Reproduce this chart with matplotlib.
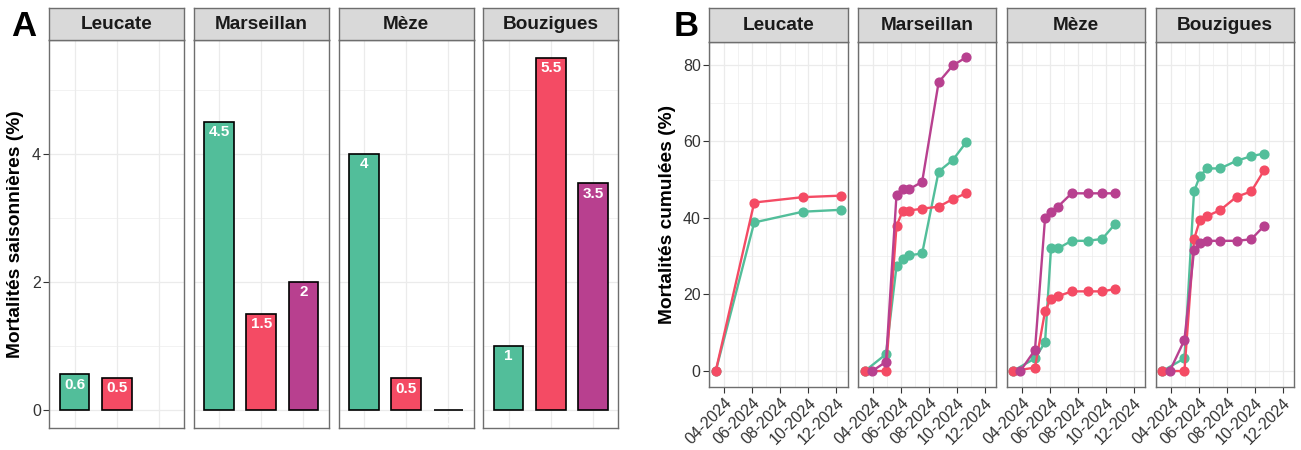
import matplotlib
matplotlib.use("Agg")
import matplotlib.pyplot as plt
import matplotlib.dates as mdates
import numpy as np
import pandas as pd

plt.rcParams['font.family'] = ['Liberation Sans', 'DejaVu Sans']

# ---- data -------------------------------------------------------------
sites = ['Leucate', 'Marseillan', 'Mèze', 'Bouzigues']

# panel A : mortalites saisonnieres (%), one value per site (nan = absent)
saison_vert = [0.556, 4.5, 4.0, 1.0]
saison_rouge = [0.505, 1.5, 0.5, 5.5]
saison_violet = [np.nan, 2.0, 0.0, 3.54]

# panel B : mortalites cumulees (%)
dates_leu = ['2024-03-13', '2024-06-05', '2024-09-19', '2024-12-12']
leu_vert = [0, 38.8, 41.6, 42.1]
leu_rouge = [0, 44.0, 45.4, 45.8]

dates_mar = ['2024-03-14', '2024-04-29', '2024-05-22', '2024-06-05', '2024-06-19',
             '2024-07-17', '2024-08-22', '2024-09-22', '2024-10-21']
dates_mar_violet = ['2024-03-30'] + dates_mar[1:]
mar_vert = [0, 4.4, 27.3, 29.2, 30.2, 30.7, 52.1, 55.1, 59.7]
mar_rouge = [0, 0, 37.9, 41.9, 41.9, 42.4, 42.9, 44.9, 46.4]
mar_violet = [0, 2.4, 46.0, 47.5, 47.5, 49.4, 75.4, 79.8, 81.9]

dates_mez = ['2024-03-12', '2024-04-29', '2024-05-21', '2024-06-03', '2024-06-18',
             '2024-07-18', '2024-08-22', '2024-09-23', '2024-10-21']
dates_mez_violet = ['2024-03-28'] + dates_mez[1:]
mez_vert = [0, 3.3, 7.5, 32.0, 32.0, 34.0, 34.0, 34.5, 38.4]
mez_rouge = [0, 0.9, 15.6, 18.9, 19.5, 20.8, 20.8, 20.8, 21.4]
mez_violet = [0, 5.5, 39.9, 41.5, 42.9, 46.4, 46.4, 46.4, 46.4]

dates_bou = ['2024-03-13', '2024-04-30', '2024-05-21', '2024-06-03', '2024-06-19',
             '2024-07-17', '2024-08-22', '2024-09-23', '2024-10-21']
dates_bou_violet = ['2024-03-29'] + dates_bou[1:]
bou_vert = [0, 3.3, 46.9, 51.0, 52.9, 52.9, 54.9, 56.1, 56.8]
bou_rouge = [0, 0, 34.4, 39.5, 40.5, 42.0, 45.5, 46.9, 52.4]
bou_violet = [0, 8.1, 31.5, 33.4, 34.0, 34.0, 34.0, 34.4, 37.9]

VERT, ROUGE, VIOLET = '#52BE9A', '#F44B64', '#B8408F'

# per-site series for panel B: (dates, values, colour)
cumul = {
    'Leucate': [(dates_leu, leu_vert, VERT), (dates_leu, leu_rouge, ROUGE)],
    'Marseillan': [(dates_mar, mar_vert, VERT), (dates_mar, mar_rouge, ROUGE),
                   (dates_mar_violet, mar_violet, VIOLET)],
    'Mèze': [(dates_mez, mez_vert, VERT), (dates_mez, mez_rouge, ROUGE),
             (dates_mez_violet, mez_violet, VIOLET)],
    'Bouzigues': [(dates_bou, bou_vert, VERT), (dates_bou, bou_rouge, ROUGE),
                  (dates_bou_violet, bou_violet, VIOLET)],
}

# ---- figure -----------------------------------------------------------
W, H = 1301, 450
fig = plt.figure(figsize=(W / 100, H / 100), dpi=100)


def px_axes(x0, y0, x1, y1):
    return fig.add_axes([x0 / W, 1 - y1 / H, (x1 - x0) / W, (y1 - y0) / H])


BORDER = '#6E6E6E'
GRID = '#EBEBEB'
TICKCOL = '#333333'


def style_panel(ax):
    ax.set_facecolor('white')
    for s in ax.spines.values():
        s.set_color(BORDER)
        s.set_linewidth(1.0)
    ax.grid(True, which='major', color=GRID, lw=0.9, zorder=0)
    ax.grid(True, which='minor', color=GRID, lw=0.45, zorder=0)
    ax.set_axisbelow(True)
    ax.tick_params(which='major', color='#333333', length=4, width=0.8,
                   labelsize=11.5, labelcolor=TICKCOL, pad=2)
    ax.tick_params(which='minor', length=0)


def strip(x0, y0, x1, y1, label):
    sa = px_axes(x0, y0, x1, y1)
    sa.set_facecolor('#D9D9D9')
    for s in sa.spines.values():
        s.set_color(BORDER)
        s.set_linewidth(1.0)
    sa.set_xticks([])
    sa.set_yticks([])
    sa.text(0.5, 0.48, label, ha='center', va='center', fontsize=13.7,
            fontweight='bold', color='#1A1A1A', transform=sa.transAxes)


# ---- panel A ----------------------------------------------------------
a_left = [49.3, 193.7, 338.7, 483.3]
a_w = 135.0
vals = np.array([saison_vert, saison_rouge, saison_violet]).T
cols = [VERT, ROUGE, VIOLET]
ymaxA = np.nanmax(vals)
for i, site in enumerate(sites):
    ax = px_axes(a_left[i], 40, a_left[i] + a_w, 427.7)
    style_panel(ax)
    strip(a_left[i], 8.3, a_left[i] + a_w, 40, site)
    for j in range(3):
        v = float(vals[i, j])
        if np.isnan(v):
            continue
        ax.bar(j + 1, v, width=0.7, color=cols[j], edgecolor='black',
               linewidth=1.2, zorder=2)
        ax.annotate(f"{round(v, 1):g}", (j + 1, v), xytext=(0, -2.5),
                    textcoords='offset points', ha='center', va='top',
                    color='white', fontsize=11, fontweight='bold', zorder=3)
    ax.set_xlim(0.4, 3.6)
    ax.set_ylim(-0.05 * ymaxA, 1.05 * ymaxA)
    ax.set_xticks([1, 2, 3])
    ax.tick_params(axis='x', length=0, labelbottom=False)
    ax.set_yticks([0, 2, 4])
    ax.set_yticks([1, 3, 5], minor=True)
    if i > 0:
        ax.tick_params(axis='y', which='both', left=False, labelleft=False)

fig.text(16 / W, 1 - 234 / H, 'Mortalités saisonnières (%)', rotation=90,
         ha='center', va='center', fontsize=13.8, fontweight='bold')
fig.text(24 / W, 1 - 27 / H, 'A', ha='center', va='center', fontsize=25,
         fontweight='bold')

# ---- panel B ----------------------------------------------------------
b_left = [709, 857.7, 1006.7, 1155.7]
b_w = 138.5
all_dates = pd.to_datetime([d for s in cumul.values() for ser in s for d in ser[0]])
dmin, dmax = all_dates.min(), all_dates.max()
pad = (dmax - dmin) * 0.05
all_vals = [v for s in cumul.values() for ser in s for v in ser[1]]
ymaxB = max(all_vals)
for i, site in enumerate(sites):
    ax = px_axes(b_left[i], 41.7, b_left[i] + b_w, 386.7)
    style_panel(ax)
    strip(b_left[i], 8.3, b_left[i] + b_w, 41.7, site)
    for d, v, c in cumul[site]:
        ax.plot(pd.to_datetime(d), v, color=c, lw=1.7, marker='o', ms=6.3,
                zorder=3)
    ax.set_xlim(dmin - pad, dmax + pad)
    ax.set_ylim(-0.05 * ymaxB, 1.05 * ymaxB)
    ax.xaxis.set_major_locator(mdates.MonthLocator(bymonth=[4, 6, 8, 10, 12]))
    ax.xaxis.set_minor_locator(mdates.MonthLocator(bymonth=[3, 5, 7, 9, 11]))
    ax.xaxis.set_major_formatter(mdates.DateFormatter('%m-%Y'))
    ax.set_yticks([0, 20, 40, 60, 80])
    ax.set_yticks([10, 30, 50, 70], minor=True)
    for lab in ax.get_xticklabels():
        lab.set_rotation(45)
        lab.set_ha('right')
        lab.set_rotation_mode('anchor')
    if i > 0:
        ax.tick_params(axis='y', which='both', left=False, labelleft=False)

fig.text(667 / W, 1 - 214 / H, 'Mortalités cumulées (%)', rotation=90,
         ha='center', va='center', fontsize=13.8, fontweight='bold')
fig.text(686 / W, 1 - 27 / H, 'B', ha='center', va='center', fontsize=25,
         fontweight='bold')

fig.savefig('out.png', dpi=100)
